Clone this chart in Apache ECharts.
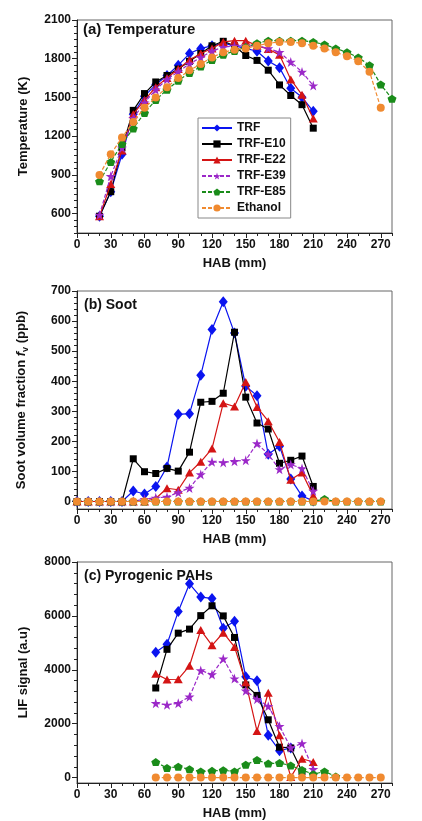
<!DOCTYPE html>
<html><head><meta charset="utf-8">
<script src="https://cdn.jsdelivr.net/npm/echarts@6/dist/echarts.min.js"></script>
<style>html,body{margin:0;padding:0;background:#fff}#c{width:422px;height:821px}</style>
</head><body><div id="c"></div>
<script>
const names = ['TRF','TRF-E10','TRF-E22','TRF-E39','TRF-E85','Ethanol'];
const colors = ['#0a14f0','#000000','#d41414','#9b28c8','#1a8c1a','#f08a30'];

// ---- Panel (a) Temperature (K) vs HAB (mm)
const habA_short = [20,30,40,50,60,70,80,90,100,110,120,130,140,150,160,170,180,190,200,210];
const habA_E85   = [20,30,40,50,60,70,80,90,100,110,120,130,140,150,160,170,180,190,200,210,220,230,240,250,260,270,280];
const habA_Eth   = [20,30,40,50,60,70,80,90,100,110,120,130,140,150,160,170,180,190,200,210,220,230,240,250,260,270];
const T_TRF = [580,770,1060,1370,1510,1600,1670,1750,1840,1880,1900,1920,1900,1880,1858,1782,1731,1571,1502,1393];
const T_E10 = [580,770,1110,1400,1530,1620,1670,1720,1780,1840,1900,1935,1900,1825,1787,1711,1597,1515,1444,1262];
const T_E22 = [580,830,1090,1370,1480,1580,1650,1720,1790,1840,1880,1930,1940,1940,1900,1876,1830,1640,1520,1337];
const T_E39 = [590,890,1110,1340,1460,1560,1640,1700,1760,1810,1860,1890,1900,1900,1900,1880,1850,1775,1698,1592];
const T_E85 = [850,1000,1140,1260,1380,1480,1560,1630,1690,1740,1790,1830,1860,1890,1920,1940,1940,1940,1940,1930,1910,1880,1850,1810,1750,1600,1490];
const T_Eth = [900,1060,1190,1310,1420,1500,1580,1650,1710,1760,1810,1850,1870,1880,1900,1920,1930,1930,1920,1900,1880,1850,1820,1780,1700,1420];

// ---- Panel (b) Soot volume fraction (ppb)
const habB_short = [0,10,20,30,40,50,60,70,80,90,100,110,120,130,140,150,160,170,180,190,200,210];
const habB_long  = [0,10,20,30,40,50,60,70,80,90,100,110,120,130,140,150,160,170,180,190,200,210,220,230,240,250,260,270];
const S_TRF = [0,0,0,0,0,35,25,50,115,290,292,420,572,664,560,383,352,157,184,75,18,2];
const S_E10 = [0,0,0,0,0,142,99,93,110,101,164,330,333,360,563,347,261,241,127,137,151,50];
const S_E22 = [0,0,0,0,0,0,0,10,44,39,96,132,176,327,316,397,314,267,198,72,96,19];
const S_E39 = [0,0,0,0,0,0,8,12,15,30,45,90,132,130,134,137,193,157,107,123,110,35];
const S_E85 = [0,0,0,0,0,0,0,0,0,0,0,0,0,0,0,0,0,0,0,0,0,0,8,0,0,0,0,0];
const S_Eth = [0,0,0,0,0,0,0,0,0,0,0,0,0,0,0,0,0,0,0,0,0,0,0,0,0,0,0,0];

// ---- Panel (c) LIF signal (a.u)
const habC_TRF = [70,80,90,100,110,120,130,140,150,160,170,180,190];
const habC_E10 = [70,80,90,100,110,120,130,140,150,160,170,180,190,200];
const habC_mid = [70,80,90,100,110,120,130,140,150,160,170,180,190,200,210];
const habC_E85 = [70,80,90,100,110,120,130,140,150,160,170,180,190,200,210,220,230];
const habC_Eth = [70,80,90,100,110,120,130,140,150,160,170,180,190,200,210,220,230,240,250,260,270];
const P_TRF = [4650,4950,6160,7190,6700,6650,5540,5800,3740,3590,1570,1000,1100];
const P_E10 = [3325,4760,5360,5510,6010,6375,6000,5200,3440,3050,2145,1130,1100,230];
const P_E22 = [3850,3640,3650,4150,5475,4910,5375,4850,3540,1725,3150,1570,20,700,580];
const P_E39 = [2760,2700,2760,3000,3975,3825,4410,3675,3225,2910,2650,1910,1110,1270,310];
const P_E85 = [575,360,400,310,225,250,275,225,480,650,520,540,450,280,125,230,40];
const P_Eth = [0,0,0,0,0,0,0,0,0,0,0,0,0,0,0,0,0,0,0,0,0];

const xTickLabels = [0,30,60,90,120,150,180,210,240,270];
const yTicksA = [600,900,1200,1500,1800,2100];
const yTicksB = [0,100,200,300,400,500,600,700];
const yTicksC = [0,2000,4000,6000,8000];

const STAR = 'path://M50,0 L61,35 L98,35 L68,57 L79,91 L50,70 L21,91 L32,57 L2,35 L39,35 Z';
const PENT = 'path://M50,0 L98,36 L80,95 L20,95 L2,36 Z';
const symbols = ['diamond','rect','triangle', STAR, PENT, 'circle'];
const symSizes = [[9,11],7,[9,8],10,[9,8],8];
const lineTypes = ['solid','solid','solid',[4,2],[4,2],[4,2]];

function pairs(xs, ys){ return xs.map((x,i)=>[x, ys[i]]); }
function mkSeries(g, xsList, ysList){
  return names.map((n,i)=>({
    name:n, type:'line', xAxisIndex:g*2, yAxisIndex:g*2,
    data: pairs(xsList[i], ysList[i]),
    symbol: symbols[i], symbolSize: symSizes[i], showSymbol:true,
    itemStyle:{color:colors[i]},
    lineStyle:{color:colors[i], width:1.2, type: lineTypes[i]},
    z: 2+i, animation:false
  }));
}

const FONT = 'Liberation Sans, Arial, sans-serif';
const grids = [
  {left:77, top:20, width:315, height:213},
  {left:77, top:291, width:315, height:218},
  {left:77, top:562, width:315, height:228}
].map(g=>Object.assign(g,{show:true, borderColor:'#666', borderWidth:1, containLabel:false}));

function range(a,b,s,skip){ const r=[]; for(let v=a; v<=b+1e-9; v+=s){ if(!skip || Math.abs(v%skip)>1e-6) r.push(v);} return r; }

const yCfg = [
  {min:450, max:2100, ticks:yTicksA, minor:range(450,2100,50,300), name:'Temperature (K)', gap:47},
  {min:-25, max:700, ticks:yTicksB, minor:range(0,700,20,100), name:'Soot volume fraction {i|f}{s|v} (ppb)', gap:47},
  {min:-200, max:8000, ticks:yTicksC, minor:range(0,8000,400,2000), name:'LIF signal (a.u)', gap:47}
];

const fmt = v => String(v);
const xAxes=[], yAxes=[];
for(let g=0; g<3; g++){
  xAxes.push({gridIndex:g, type:'value', min:0, max:280, position:'bottom',
    axisLine:{show:true, onZero:false, lineStyle:{color:'#222', width:1}},
    axisTick:{show:true, customValues:xTickLabels, length:5, lineStyle:{color:'#222'}},
    axisLabel:{customValues:xTickLabels, formatter:fmt, color:'#111', fontFamily:FONT, fontWeight:'bold', fontSize:12, margin:6},
    splitLine:{show:false},
    name:'HAB (mm)', nameLocation:'middle', nameGap:24,
    nameTextStyle:{color:'#111', fontFamily:FONT, fontWeight:'bold', fontSize:13}});
  xAxes.push({gridIndex:g, type:'value', min:0, max:280, position:'bottom',
    axisLine:{show:false, onZero:false}, axisLabel:{show:false}, splitLine:{show:false},
    axisTick:{show:true, customValues:range(0,280,10,30), length:3, lineStyle:{color:'#222'}}});
  const c = yCfg[g];
  yAxes.push({gridIndex:g, type:'value', min:c.min, max:c.max, position:'left',
    axisLine:{show:true, onZero:false, lineStyle:{color:'#222', width:1}},
    axisTick:{show:true, customValues:c.ticks, length:5, lineStyle:{color:'#222'}},
    axisLabel:{customValues:c.ticks, formatter:fmt, color:'#111', fontFamily:FONT, fontWeight:'bold', fontSize:12, margin:6},
    splitLine:{show:false},
    name:c.name, nameLocation:'middle', nameGap:c.gap,
    nameTextStyle:{color:'#111', fontFamily:FONT, fontWeight:'bold', fontSize:13,
      rich:{i:{fontStyle:'italic', fontWeight:'bold', fontSize:13, fontFamily:FONT, color:'#111'},
            s:{fontSize:9, fontWeight:'bold', fontFamily:FONT, color:'#111', verticalAlign:'bottom', padding:[8,0,0,0]}}}});
  yAxes.push({gridIndex:g, type:'value', min:c.min, max:c.max, position:'left',
    axisLine:{show:false, onZero:false}, axisLabel:{show:false}, splitLine:{show:false},
    axisTick:{show:true, customValues:c.minor, length:3, lineStyle:{color:'#222'}}});
}

const series = [
  ...mkSeries(0, [habA_short,habA_short,habA_short,habA_short,habA_E85,habA_Eth], [T_TRF,T_E10,T_E22,T_E39,T_E85,T_Eth]),
  ...mkSeries(1, [habB_short,habB_short,habB_short,habB_short,habB_long,habB_long], [S_TRF,S_E10,S_E22,S_E39,S_E85,S_Eth]),
  ...mkSeries(2, [habC_TRF,habC_E10,habC_mid,habC_mid,habC_E85,habC_Eth], [P_TRF,P_E10,P_E22,P_E39,P_E85,P_Eth])
];

const titleStyle = {color:'#111', fontFamily:FONT, fontWeight:'bold', fontSize:14};
const chart = echarts.init(document.getElementById('c'), null, {renderer:'canvas'});
chart.setOption({
  backgroundColor:'#fff',
  animation:false,
  title:[
    {text:'(a) Temperature', left:83, top:22, textStyle:Object.assign({}, titleStyle, {fontSize:15}), padding:0},
    {text:'(b) Soot', left:84, top:298, textStyle:titleStyle, padding:0},
    {text:'(c) Pyrogenic PAHs', left:84, top:569, textStyle:titleStyle, padding:0}
  ],
  legend:{data:names, orient:'vertical', left:198, top:118, itemWidth:30, itemHeight:9, itemGap:4,
    borderColor:'#888', borderWidth:1, padding:[4,5,4,3], backgroundColor:'#fff',
    textStyle:{color:'#111', fontFamily:FONT, fontWeight:'bold', fontSize:12}},
  grid:grids, xAxis:xAxes, yAxis:yAxes, series:series
});
</script></body></html>
